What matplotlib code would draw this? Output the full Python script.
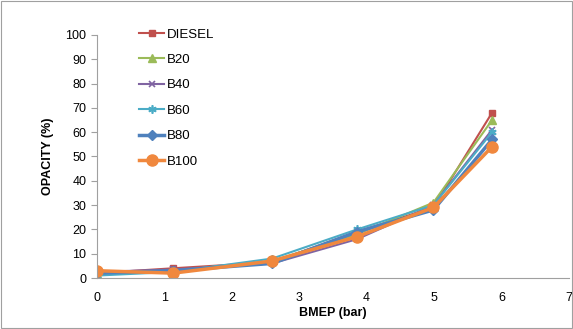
import matplotlib.pyplot as plt

bmep = [0, 1.13, 2.6, 3.86, 4.99, 5.86]
diesel = [2, 4, 6.5, 19, 29, 68]
b20 = [1.5, 3, 7, 18, 31, 65]
b40 = [2.5, 3.5, 6, 16, 30, 61]
b60 = [1, 2.5, 8, 20, 30, 60]
b80 = [2, 3, 6, 19, 28, 57]
b100 = [3, 2, 7, 17, 29, 54]

plt.rcParams['font.family'] = ['Liberation Sans', 'DejaVu Sans']

fig = plt.figure(figsize=(5.73, 3.29), dpi=100)
ax = fig.add_axes([0.169, 0.155, 0.824, 0.739])

ax.plot(bmep, diesel, color='#C0504D', marker='s', ms=5, lw=1.5, label='DIESEL')
ax.plot(bmep, b20, color='#9BBB59', marker='^', ms=6, lw=1.5, label='B20')
ax.plot(bmep, b40, color='#8064A2', marker='x', ms=5, mew=1.2, lw=1.5, label='B40')
ax.plot(bmep, b60, color='#4BACC6', marker=(6, 2, 0), ms=6, mew=1.2, lw=1.5, label='B60')
ax.plot(bmep, b80, color='#4F81BD', marker='D', ms=5, lw=2.5, label='B80')
ax.plot(bmep, b100, color='#F0883E', marker='o', ms=8, lw=2.5, label='B100')

ax.set_xlim(0, 7)
ax.set_ylim(0, 100)
ax.set_xticks(range(8))
ax.set_yticks(range(0, 101, 10))
for s in ['top', 'right']:
    ax.spines[s].set_visible(False)
for s in ['left', 'bottom']:
    ax.spines[s].set_color('#A0A0A0')
ax.tick_params(axis='y', colors='#A0A0A0', labelcolor='black', labelsize=9, length=4)
ax.tick_params(axis='x', length=0, labelsize=9, pad=10)
ax.set_xlabel('BMEP (bar)', fontweight='bold', fontsize=9, labelpad=2)
ax.set_ylabel('OPACITY (%)', fontweight='bold', fontsize=9, labelpad=8)

ax.legend(loc='upper left', bbox_to_anchor=(0.222, 0.95), bbox_transform=fig.transFigure,
          frameon=False, fontsize=9.5, labelspacing=1.0, handlelength=1.9, handletextpad=0.2)

fig.patches.append(plt.Rectangle((0.002, 0.003), 0.996, 0.994, transform=fig.transFigure,
                                 fill=False, edgecolor='#A0A0A0', lw=0.8))

plt.savefig('out.png')
